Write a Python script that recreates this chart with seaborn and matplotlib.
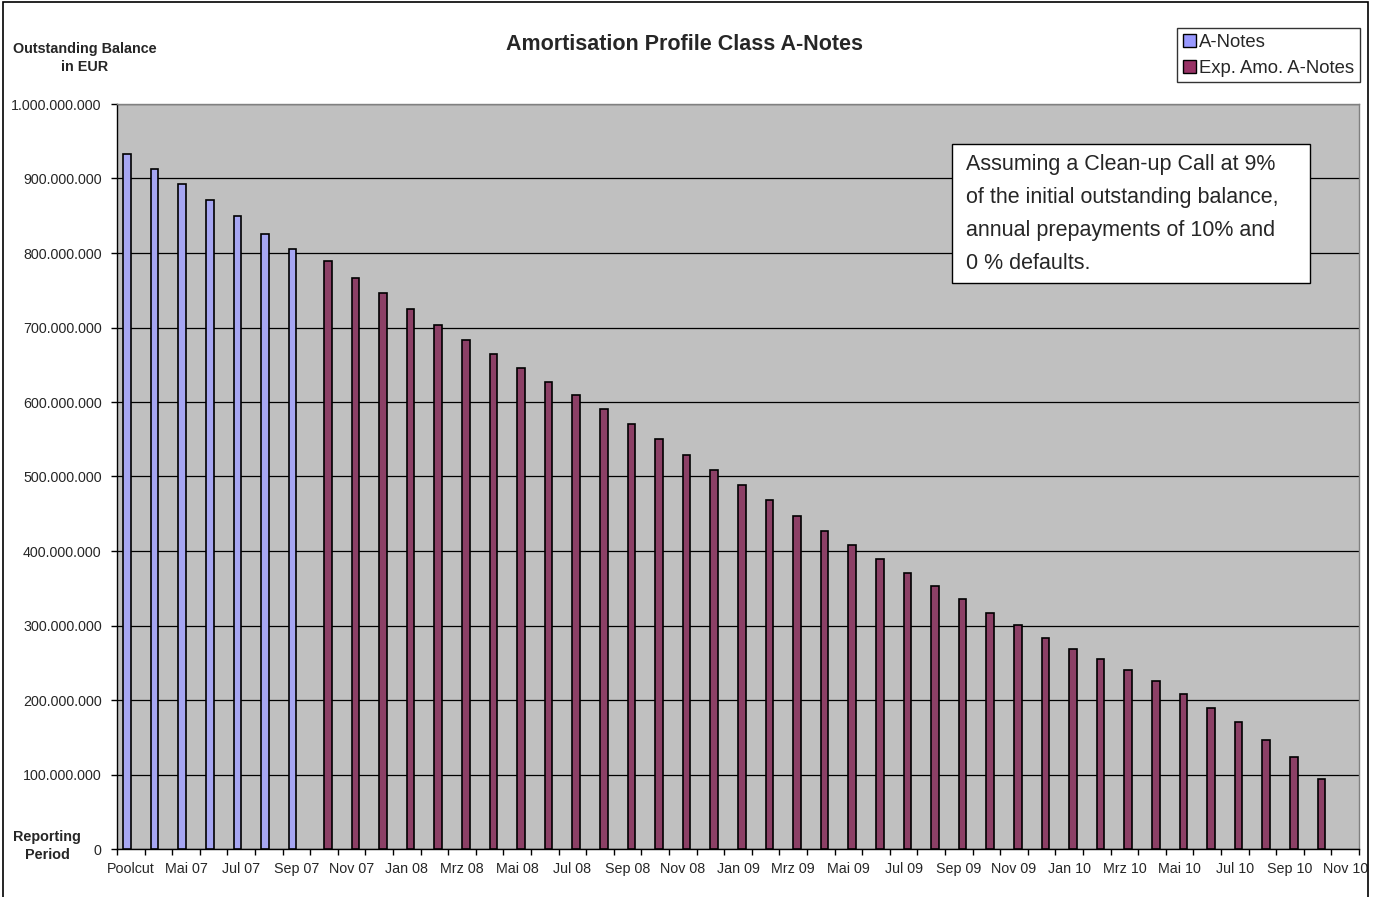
import pandas as pd
import matplotlib
matplotlib.use("Agg")
import matplotlib.pyplot as plt
import matplotlib.patches as mpatches
from matplotlib.ticker import FuncFormatter, FixedLocator
import seaborn as sns

# periods: Poolcut (Mar 07) up to Nov 10
months = ['Jan', 'Feb', 'Mrz', 'Apr', 'Mai', 'Jun', 'Jul', 'Aug', 'Sep', 'Okt', 'Nov', 'Dez']
periods = ['Poolcut']
for y in range(7, 11):
    for m in months:
        lab = f"{m} {y:02d}"
        if lab in ('Jan 07', 'Feb 07', 'Mrz 07', 'Dez 10'):
            continue
        periods.append(lab)

# actual A-Notes balance (Poolcut .. Sep 07), in millions EUR
a_notes = [933, 913, 892, 871, 849, 826, 806]

# expected amortisation (Okt 07 .. Okt 10), in millions EUR
exp_amo = [789, 767, 746, 725, 703, 683, 664, 645, 627, 609, 591, 570, 550,
           529, 509, 488, 468, 447, 427, 408, 389, 371, 353, 335, 317, 301,
           283, 268, 255, 240, 226, 208, 189, 170, 146, 123, 94]

series_names = ['A-Notes', 'Exp. Amo. A-Notes']
colors = ['#9999FF', '#993366']

rows = []
for p, v in zip(periods[:len(a_notes)], a_notes):
    rows.append((p, series_names[0], v * 1e6))
for p, v in zip(periods[len(a_notes):], exp_amo):
    rows.append((p, series_names[1], v * 1e6))
df = pd.DataFrame(rows, columns=['period', 'series', 'value'])

sns.set_theme(style='white')
plt.rcParams['font.family'] = ['Liberation Sans', 'DejaVu Sans']

fig = plt.figure(figsize=(13.79, 8.97), dpi=100)
ax = fig.add_axes([117/1379, 48/897, 1242/1379, 745/897])
ax.set_facecolor('#C0C0C0')

sns.barplot(data=df, x='period', y='value', hue='series', order=periods,
            hue_order=series_names, palette=colors, width=0.55, dodge=True,
            edgecolor='black', linewidth=1.2, errorbar=None, legend=False,
            ax=ax, zorder=3)

ax.set_xlim(-0.5, len(periods) - 0.5)
ax.set_ylim(0, 1e9)
ax.set_yticks([i * 1e8 for i in range(11)])
ax.yaxis.set_major_formatter(FuncFormatter(lambda v, _: f"{int(round(v)):,}".replace(',', '.')))
ax.grid(axis='y', color='black', linewidth=0.9, zorder=1)
ax.set_axisbelow(True)

# x ticks at category borders, labels every second category
ax.xaxis.set_major_locator(FixedLocator([i - 0.5 for i in range(len(periods) + 1)]))
ax.xaxis.set_major_formatter(FuncFormatter(lambda v, _: ''))
ax.xaxis.set_minor_locator(FixedLocator(list(range(0, len(periods), 2))))
ax.set_xticklabels([periods[i] for i in range(0, len(periods), 2)], minor=True)
ax.tick_params(axis='x', which='major', direction='out', length=4, width=1, color='black', bottom=True)
ax.tick_params(axis='x', which='minor', length=0, pad=9, labelsize=10.3, bottom=True)
ax.tick_params(axis='y', direction='out', length=4, width=1, color='black', pad=7, labelsize=10.3, left=True)
ax.set_xlabel('')
ax.set_ylabel('')

for s in ['left', 'bottom']:
    ax.spines[s].set_color('black')
    ax.spines[s].set_linewidth(1)
for s in ['top', 'right']:
    ax.spines[s].set_color('#808080')
    ax.spines[s].set_linewidth(1)

# legend
handles = [mpatches.Patch(facecolor=c, edgecolor='black', linewidth=1) for c in colors]
leg = fig.legend(handles, series_names, loc='upper right',
                 bbox_to_anchor=(1360/1379, 1 - 28/897), fontsize=13.3,
                 frameon=True, fancybox=False, handlelength=0.7, handleheight=0.7,
                 handletextpad=0.2, borderpad=0.3, labelspacing=0.5, borderaxespad=0)
leg.get_frame().set_edgecolor('black')
leg.get_frame().set_linewidth(1)

# titles and axis captions
fig.text(685/1379, 1 - 45/897, 'Amortisation Profile Class A-Notes', ha='center',
         va='center', fontsize=15.5, fontweight='bold')
fig.text(85/1379, 1 - 58/897, 'Outstanding Balance\nin EUR', ha='center', va='center',
         fontsize=10.4, fontweight='bold', linespacing=1.35)
fig.text(47/1379, 1 - 846/897, 'Reporting\nPeriod', ha='center', va='center',
         fontsize=10.4, fontweight='bold', linespacing=1.35)

# note box
fig.patches.append(mpatches.Rectangle((952/1379, 1 - 283/897), 358/1379, 139/897,
                                      transform=fig.transFigure, facecolor='white',
                                      edgecolor='black', linewidth=1, zorder=5))
fig.text(966/1379, 1 - 154/897,
         'Assuming a Clean-up Call at 9%\nof the initial outstanding balance,\n'
         'annual prepayments of 10% and\n0 % defaults.',
         ha='left', va='top', fontsize=15.5, linespacing=1.74, zorder=6)

# outer chart frame
fig.patches.append(mpatches.Rectangle((3/1379, -0.01), 1365/1379, 1.01 - 1.5/897,
                                      transform=fig.transFigure, fill=False,
                                      edgecolor='black', linewidth=1.2))

fig.savefig('out.png', dpi=100)
